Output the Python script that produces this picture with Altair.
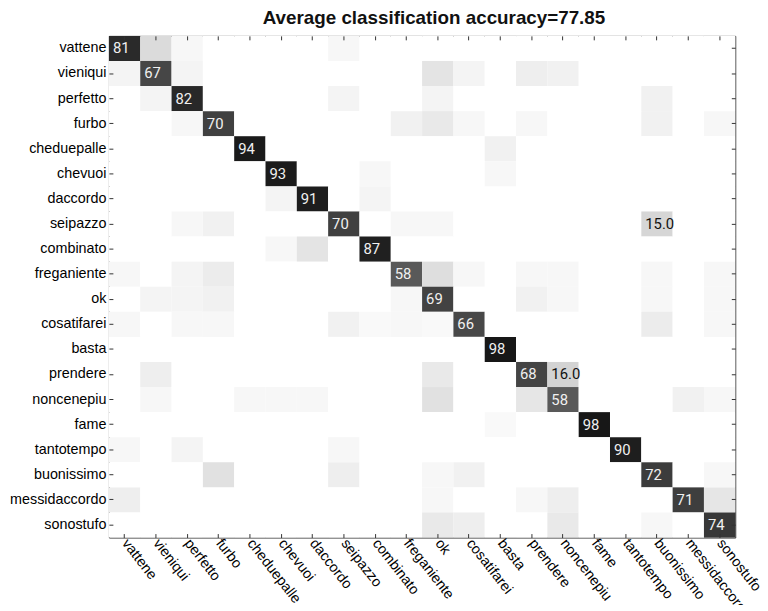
import altair as alt
import pandas as pd

classes = ["vattene", "vieniqui", "perfetto", "furbo", "cheduepalle", "chevuoi",
           "daccordo", "seipazzo", "combinato", "freganiente", "ok", "cosatifarei",
           "basta", "prendere", "noncenepiu", "fame", "tantotempo", "buonissimo",
           "messidaccordo", "sonostufo"]

title_text = "Average classification accuracy=77.85"

# rows = true class, columns = predicted class (percent)
r_vattene       = [81, 13, 3, 0, 0, 0, 0, 3, 0, 0, 0, 0, 0, 0, 0, 0, 0, 0, 0, 0]
r_vieniqui      = [4, 67, 4, 0, 0, 0, 0, 0, 0, 0, 10, 4, 0, 6, 5, 0, 0, 0, 0, 0]
r_perfetto      = [0, 4, 82, 0, 0, 0, 0, 4, 0, 0, 4, 0, 0, 0, 0, 0, 0, 5, 0, 0]
r_furbo         = [0, 0, 3, 70, 0, 0, 0, 0, 0, 5, 8, 3, 0, 3, 0, 0, 0, 5, 0, 3]
r_cheduepalle   = [0, 0, 0, 0, 94, 0, 0, 0, 0, 0, 0, 0, 5, 0, 0, 0, 0, 0, 0, 0]
r_chevuoi       = [0, 0, 0, 0, 0, 93, 0, 0, 3, 0, 0, 0, 3, 0, 0, 0, 0, 0, 0, 0]
r_daccordo      = [0, 0, 0, 0, 0, 4, 91, 0, 4, 0, 0, 0, 0, 0, 0, 0, 0, 0, 0, 0]
r_seipazzo      = [0, 0, 3, 5, 0, 0, 0, 70, 0, 3, 3, 0, 0, 0, 0, 0, 0, 15, 0, 0]
r_combinato     = [0, 0, 0, 0, 0, 3, 10, 0, 87, 0, 0, 0, 0, 0, 0, 0, 0, 0, 0, 0]
r_freganiente   = [3, 0, 4, 7, 0, 0, 0, 0, 0, 58, 12, 3, 0, 3, 3, 0, 0, 3, 0, 3]
r_ok            = [0, 4, 4, 5, 0, 0, 0, 0, 0, 3, 69, 0, 0, 5, 3, 0, 0, 3, 0, 3]
r_cosatifarei   = [3, 0, 3, 3, 0, 0, 0, 5, 2, 3, 2, 66, 0, 0, 0, 0, 0, 7, 0, 3]
r_basta         = [0, 0, 0, 0, 0, 0, 0, 0, 0, 0, 0, 0, 98, 0, 0, 0, 0, 0, 0, 0]
r_prendere      = [0, 6, 0, 0, 0, 0, 0, 0, 0, 0, 8, 0, 0, 68, 16, 0, 0, 0, 0, 0]
r_noncenepiu    = [0, 3, 0, 0, 3, 3, 3, 0, 0, 0, 11, 0, 0, 9, 58, 0, 0, 0, 5, 3]
r_fame          = [0, 0, 0, 0, 0, 0, 0, 0, 0, 0, 0, 0, 2, 0, 0, 98, 0, 0, 0, 0]
r_tantotempo    = [3, 0, 4, 0, 0, 0, 0, 3, 0, 0, 0, 0, 0, 0, 0, 0, 90, 0, 0, 0]
r_buonissimo    = [0, 0, 0, 11, 0, 0, 0, 6, 0, 0, 3, 5, 0, 0, 0, 0, 0, 72, 0, 3]
r_messidaccordo = [6, 0, 0, 0, 0, 0, 0, 0, 0, 0, 3, 0, 0, 3, 6, 0, 0, 0, 71, 9]
r_sonostufo     = [0, 0, 0, 0, 0, 0, 0, 0, 0, 0, 8, 6, 0, 0, 8, 0, 0, 3, 0, 74]

rows = [r_vattene, r_vieniqui, r_perfetto, r_furbo, r_cheduepalle, r_chevuoi,
        r_daccordo, r_seipazzo, r_combinato, r_freganiente, r_ok, r_cosatifarei,
        r_basta, r_prendere, r_noncenepiu, r_fame, r_tantotempo, r_buonissimo,
        r_messidaccordo, r_sonostufo]

records = []
for i, t in enumerate(classes):
    for j, p in enumerate(classes):
        v = rows[i][j]
        if i == j:
            lab = f"{v:.0f}"
        elif v >= 15:
            lab = f"{v:.1f}"
        else:
            lab = ""
        records.append(dict(true=t, pred=p, value=v, label=lab, diag=(i == j)))
df = pd.DataFrame(records)

W, H = 633, 507
FONT = "Liberation Sans"
xs = alt.Scale(domain=classes, paddingInner=0, paddingOuter=0)
ys = alt.Scale(domain=classes, paddingInner=0, paddingOuter=0)

rect = alt.Chart(df).mark_rect().encode(
    x=alt.X("pred:N", scale=xs, axis=alt.Axis(
        title=None, orient="bottom", labelAngle=52, labelAlign="left",
        labelBaseline="middle", labelFont=FONT, labelFontSize=14.5,
        labelColor="black", domain=False, ticks=True, tickSize=4,
        tickColor="#333333", offset=-4, labelPadding=3, zindex=1)),
    y=alt.Y("true:N", scale=ys, axis=alt.Axis(
        title=None, orient="left", labelFont=FONT, labelFontSize=14.5,
        labelColor="black", domain=False, ticks=True, tickSize=4,
        tickColor="#333333", offset=-4, labelPadding=3, zindex=1)),
    color=alt.Color("value:Q", legend=None, scale=alt.Scale(
        domain=[0, 15, 58, 70, 85, 100],
        range=["#ffffff", "#d6d6d6", "#595959", "#404040", "#222222", "#151515"])),
)

text = alt.Chart(df).mark_text(
    align="left", baseline="middle", dx=4, font="Roboto", fontSize=15
).encode(
    x=alt.X("pred:N", scale=xs, bandPosition=0, axis=alt.Axis(
        title=None, orient="top", labels=False, domain=False, ticks=True,
        tickSize=4, tickColor="#333333", offset=-4, zindex=1)),
    y=alt.Y("true:N", scale=ys, axis=alt.Axis(
        title=None, orient="right", labels=False, domain=False, ticks=True,
        tickSize=4, tickColor="#333333", offset=-4, zindex=1)),
    text="label:N",
    color=alt.condition("datum.diag", alt.value("#f0f0f0"), alt.value("#111111")),
)

chart = alt.layer(rect, text).resolve_axis(x="independent", y="independent").properties(
    width=W, height=H,
    title=alt.TitleParams(title_text, fontSize=19, fontWeight="bold", font=FONT,
                          color="#111111", anchor="middle", offset=8, dx=12),
    autosize=alt.AutoSizeParams(type="none"),
    padding={"left": 102, "top": 25, "right": 25, "bottom": 65},
).configure_view(stroke="#333333", strokeWidth=1)

chart.save("out.html", embed_options={"renderer": "svg", "actions": False})
